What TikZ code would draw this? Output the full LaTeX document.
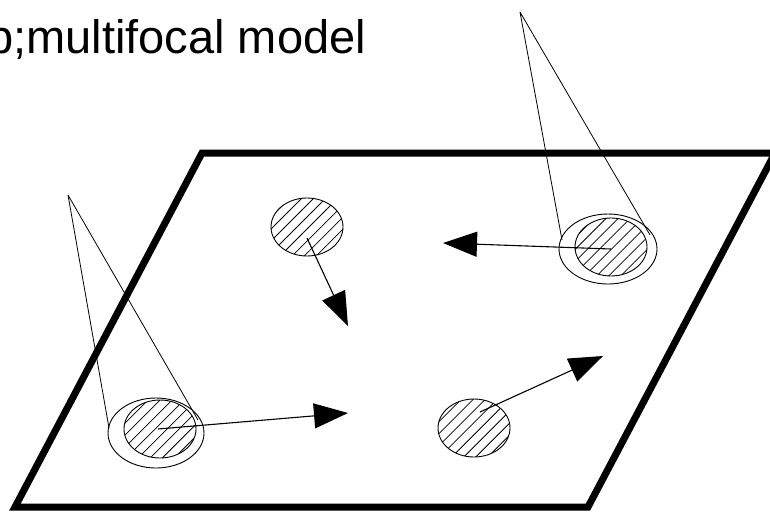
\documentclass[tikz,border=0pt]{standalone}
\usepackage{fontspec}
\setmainfont{Liberation Sans}
\usetikzlibrary{arrows.meta,patterns.meta}
\begin{document}
\begin{tikzpicture}[x=1pt,y=-1pt,
  spot/.style={draw,line width=0.9pt,pattern={Lines[angle=45,distance=8.5pt,line width=0.8pt]}},
  halo/.style={draw,line width=0.9pt},
  beam/.style={line width=0.8pt},
  move/.style={line width=1.1pt,-{Triangle[length=34pt,width=25pt]}}]
\useasboundingbox (0,0) rectangle (770,512);
\clip (0,0) rectangle (770,512);
% title
\node[anchor=base west,inner sep=0pt,font=\fontsize{47}{56}\selectfont] (title) at (-13,53) {b;multifocal model};
% plane
\draw[line width=7pt,line join=miter] (202,153) -- (775,153) -- (588,507) -- (15,507) -- cycle;
% foci and spots
\coordinate (apexL) at (68,195);
\coordinate (apexR) at (520,12);
\coordinate (spotTM) at (307,227);
\coordinate (spotBL) at (160,429);
\coordinate (spotTR) at (611,247);
\coordinate (spotBR) at (474,428);
\coordinate (haloBL) at (156,433);
\coordinate (haloTR) at (608,249);
% light cones
\draw[beam] (apexL) -- (109,428) (apexL) -- (198,420);
\draw[beam] (apexR) -- (562,240) (apexR) -- (650,235);
\draw[halo] (haloBL) ellipse [x radius=48,y radius=35];
\draw[halo] (haloTR) ellipse [x radius=49,y radius=35];
\foreach \s in {spotTM,spotBL,spotTR,spotBR}
  \draw[spot] (\s) ellipse [x radius=36,y radius=29];
% motion
\coordinate (tipTM) at (348,326);
\coordinate (tipBL) at (348,413);
\coordinate (tipTR) at (443,243);
\coordinate (tipBR) at (603,356);
\draw[move] ([yshift=-11pt]spotTM) -- (tipTM);
\draw[move] ([xshift=-2pt]spotBL) -- (tipBL);
\draw[move] ([yshift=-2pt]spotTR) -- (tipTR);
\draw[move] ([shift={(6,-16)}]spotBR) -- (tipBR);
\end{tikzpicture}
\end{document}
